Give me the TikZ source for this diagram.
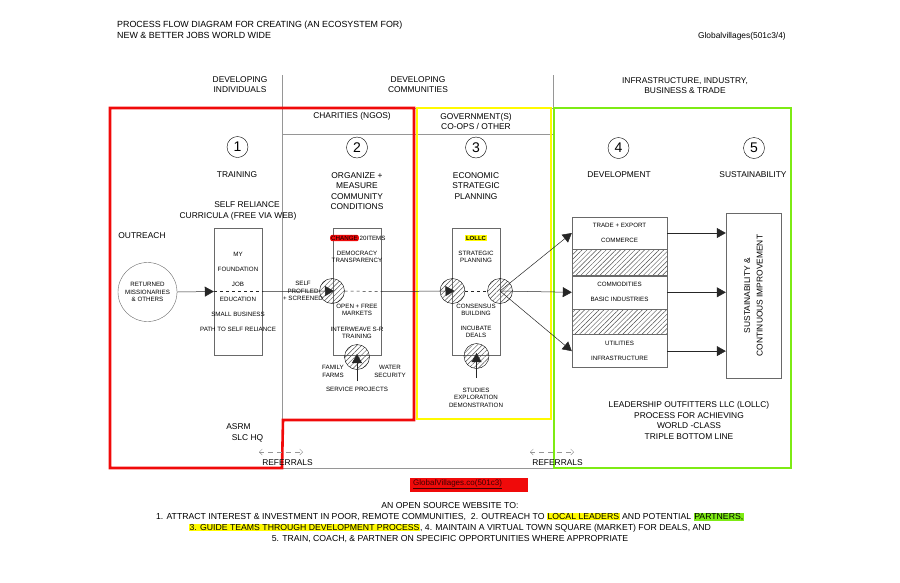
\documentclass[tikz,border=0pt]{standalone}
\usepackage{fontspec}
\setmainfont{Liberation Sans}
\usetikzlibrary{arrows.meta,patterns.meta,positioning}
\definecolor{hiRed}{RGB}{240,10,10}
\definecolor{hiYellow}{RGB}{255,250,0}
\definecolor{hiGreen}{RGB}{125,235,20}
\definecolor{boxGray}{RGB}{105,105,105}
\definecolor{gridGray}{RGB}{150,150,150}
\setlength{\fboxsep}{0.6pt}

\tikzset{
  hdr/.style={align=center, inner sep=0, font=\fontsize{8.4}{10.5}\selectfont},
  sml/.style={align=center, inner sep=0, font=\fontsize{6.2}{7.5}\selectfont},
  numc/.style={circle, draw, minimum size=21pt, inner sep=0, font=\fontsize{14}{14}\selectfont},
  hatched/.style={pattern={Lines[angle=45, distance=3.4pt, line width=0.45pt]}, pattern color=black!70},
  hatchc/.style={circle, draw, minimum size=25pt, inner sep=0, hatched},
  colbox/.style={draw=boxGray, minimum width=48pt, minimum height=127pt, inner sep=0},
  secbox/.style={draw=boxGray, minimum width=95pt, inner sep=0, align=center,
                 font=\fontsize{6.2}{15}\selectfont},
  flow/.style={black!85, line width=0.5pt},
  tip/.style={-{Triangle[length=9pt,width=10pt]}},
  gridline/.style={gridGray, line width=0.6pt},
  refline/.style={gridGray, dashed, dash pattern=on 5pt off 4pt,
                  {Straight Barb[length=3pt,width=6pt]}-{Straight Barb[length=3pt,width=6pt]}},
}

\begin{document}
\begin{tikzpicture}[x=1pt,y=-1pt]
  \useasboundingbox (0,0) rectangle (900,582);

  % title block
  \node[hdr, anchor=west, align=left, font=\fontsize{8.9}{10.5}\selectfont] (title) at (117,30) {PROCESS FLOW DIAGRAM FOR CREATING (AN ECOSYSTEM FOR)\\NEW \& BETTER JOBS WORLD WIDE};
  \node[hdr, anchor=east] (gv) at (786,36) {Globalvillages(501c3/4)};

  % stage headings
  \node[hdr] (devind) at (240,84.5) {DEVELOPING\\INDIVIDUALS};
  \node[hdr] (devcom) at (418,84.5) {DEVELOPING\\COMMUNITIES};
  \node[hdr] (infra) at (685,85.5) {INFRASTRUCTURE, INDUSTRY,\\BUSINESS \& TRADE};

  % gray frame
  \draw[gridline] (282,75) -- (282,468) -- (553,468);
  \draw[gridline] (553,75) -- (553,468);
  \draw[gridline] (282,108) -- (553,108);
  \draw[gridline] (282,134) -- (553,134);

  % coloured zones
  \draw[hiRed, line width=2.6pt] (110,108) -- (414,108) -- (414,420) -- (283,420) -- (282,468) -- (110,468) -- cycle;
  \draw[hiYellow, line width=2.6pt] (417,108) rectangle (551,419);
  \draw[hiGreen, line width=2.6pt] (554,108) rectangle (791,468);

  \node[hdr] (charity) at (352,116) {CHARITIES (NGOS)};
  \node[hdr] (gov) at (476,121.5) {GOVERNMENT(S)\\CO-OPS / OTHER};

  % numbered steps
  \node[numc] (n1) at (237.5,147) {1};
  \node[numc] (n2) at (357,147.5) {2};
  \node[numc] (n3) at (476,147.5) {3};
  \node[numc] (n4) at (618.5,148) {4};
  \node[numc] (n5) at (754,148) {5};

  \node[hdr] (train) at (237,175) {TRAINING};
  \node[hdr] (organize) at (357,191) {ORGANIZE +\\MEASURE\\COMMUNITY\\CONDITIONS};
  \node[hdr] (econ) at (476,186) {ECONOMIC\\STRATEGIC\\PLANNING};
  \node[hdr] (devel) at (619,175) {DEVELOPMENT};
  \node[hdr] (sustain) at (753,175) {SUSTAINABILITY};

  % step 1
  \node[hdr] (selfrel) at (247,205) {SELF RELIANCE};
  \node[hdr] (curric) at (238,216) {CURRICULA (FREE VIA WEB)};
  \node[hdr] (outreach) at (142,236) {OUTREACH};
  \node[circle, draw=boxGray, minimum size=59pt, sml] (ret) at (147.5,292) {RETURNED\\MISSIONARIES\\\& OTHERS};
  \node[colbox] (box1) at (238,291.5) {};
  \node[sml, font=\fontsize{6.2}{15.1}\selectfont] (box1txt) at (238,292) {MY\\FOUNDATION\\JOB\\EDUCATION\\SMALL BUSINESS\\PATH TO SELF RELIANCE};
  \node[hdr] (asrm) at (238.5,427) {ASRM};
  \node[hdr] (slchq) at (247.5,438) {SLC HQ};

  % step 2
  \node[colbox] (box2) at (357,291.5) {};
  \node[sml, fill=hiRed, rounded corners=2pt, inner sep=1pt] (chg) at (344.5,238) {CHANGE};
  \node[sml, right=0.5pt of chg] (items) {20ITEMS};
  \node[sml] (democ) at (357,257) {DEMOCRACY\\TRANSPARENCY};
  \node[sml] (markets) at (357,310) {OPEN + FREE\\MARKETS};
  \node[sml] (weave) at (357,333) {INTERWEAVE S-R\\TRAINING};
  \node[hatchc] (c2a) at (332,291) {};
  \node[hatchc] (c2b) at (357,357) {};
  \node[sml] (screen) at (303,291) {SELF\\PROFILED\\+ SCREENED};
  \node[sml] (farms) at (333,371.5) {FAMILY\\FARMS};
  \node[sml] (water) at (390,371.5) {WATER\\SECURITY};
  \node[sml] (service) at (357,389.5) {SERVICE PROJECTS};
  \coordinate (c2bfoot) at (357,381);

  % step 3
  \node[colbox] (box3) at (476,291.5) {};
  \node[sml, fill=hiYellow, inner sep=1pt, font=\fontsize{6}{7.5}\selectfont\bfseries] (lollc) at (476,238) {LOLLC};
  \node[sml] (strat) at (476,257) {STRATEGIC\\PLANNING};
  \node[sml] (consens) at (476,310) {CONSENSUS\\BUILDING};
  \node[sml] (incub) at (476,332) {INCUBATE\\DEALS};
  \node[hatchc] (c3a) at (452.5,291) {};
  \node[hatchc] (c3b) at (500,291) {};
  \node[hatchc] (c3c) at (476.5,356) {};
  \node[sml] (studies) at (476,397.5) {STUDIES\\EXPLORATION\\DEMONSTRATION};
  \coordinate (c3cfoot) at (476.5,378);

  % step 4
  \node[secbox, minimum height=32pt] (sec1) at (619.5,233) {TRADE + EXPORT\\COMMERCE};
  \node[secbox, hatched, minimum height=26pt, below=0pt of sec1] (hat1) {};
  \node[secbox, minimum height=33pt, below=0pt of hat1] (sec2) {COMMODITIES\\BASIC INDUSTRIES};
  \node[secbox, hatched, minimum height=25pt, below=0pt of sec2] (hat2) {};
  \node[secbox, minimum height=33pt, below=0pt of hat2] (sec3) {UTILITIES\\INFRASTRUCTURE};

  % step 5
  \node[draw=boxGray, minimum width=55pt, minimum height=165pt, inner sep=0] (sus) at (753.5,295.5) {};
  \node[hdr, rotate=90, font=\fontsize{8.4}{12.3}\selectfont] (sustxt) at (sus.center) {SUSTAINABILITY \&\\CONTINUOUS IMPROVEMENT};

  \node[hdr] (lead) at (689,420.5) {LEADERSHIP OUTFITTERS LLC (LOLLC)\\PROCESS FOR ACHIEVING\\WORLD -CLASS\\TRIPLE BOTTOM LINE};

  % main flow
  \draw[flow, tip] (ret.east) -- (box1.west);
  \draw[flow, dashed] (box1.west) -- (box1.east);
  \draw[flow, tip] (box1.east) -- ([xshift=2pt]c2a.center);
  \draw[flow, dashed] (c2a.east) -- (box2.east);
  \draw[flow, tip] (box2.east) -- ([xshift=2pt]c3a.center);
  \draw[flow, dashed] (c3a.east) -- (c3b.west);
  \draw[flow, tip] (c3b.center) -- (sec1.west);
  \draw[flow, tip] (c3b.center) -- (sec2.west);
  \draw[flow, tip] (c3b.center) -- (sec3.west);
  \draw[flow, tip] (c2bfoot) -- ([yshift=3pt]c2b.center);
  \draw[flow, tip] (c3cfoot) -- ([yshift=3pt]c3c.center);
  \draw[flow, tip] (sec1.east) -- (sec1.east -| sus.west);
  \draw[flow, tip] (sec2.east) -- (sec2.east -| sus.west);
  \draw[flow, tip] (sec3.east) -- (sec3.east -| sus.west);

  % referrals
  \coordinate (refLa) at (259,452);
  \coordinate (refLb) at (303,452);
  \coordinate (refRa) at (530,452);
  \coordinate (refRb) at (574,452);
  \draw[refline] (refLa) -- (refLb);
  \draw[refline] (refRa) -- (refRb);
  \node[hdr] (refL) at (287.5,462.5) {REFERRALS};
  \node[hdr] (refR) at (557.5,462.5) {REFERRALS};

  % footer
  \node[fill=hiRed, anchor=west, minimum height=14pt, text width=112pt, inner xsep=3pt, inner ysep=0,
        font=\fontsize{8}{9}\selectfont, text=black!75!red, align=left] (gvbox) at (410,484.5) {\underline{GlobalVillages.co(501c3)}};
  \node[hdr, font=\fontsize{8.7}{10.7}\selectfont] (website) at (450,522.5) {AN OPEN SOURCE WEBSITE TO:\\
    1. ATTRACT INTEREST \& INVESTMENT IN POOR, REMOTE COMMUNITIES,\ \ 2. OUTREACH TO \colorbox{hiYellow}{LOCAL LEADERS} AND POTENTIAL \colorbox{hiGreen}{PARTNERS,}\\
    \colorbox{hiYellow}{3. GUIDE TEAMS THROUGH DEVELOPMENT PROCESS}, 4. MAINTAIN A VIRTUAL TOWN SQUARE (MARKET) FOR DEALS, AND\\
    5. TRAIN, COACH, \& PARTNER ON SPECIFIC OPPORTUNITIES WHERE APPROPRIATE};
\end{tikzpicture}
\end{document}
